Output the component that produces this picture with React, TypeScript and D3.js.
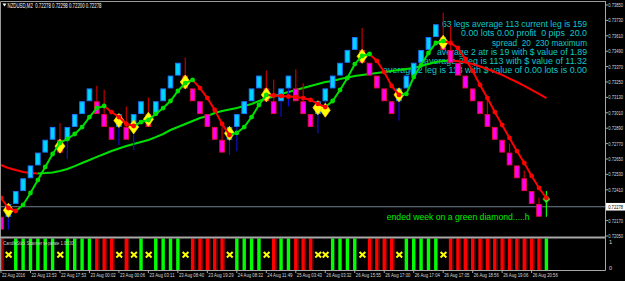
import React from "react";
import * as d3 from "d3";

// ---------- data ----------
const boxDirs = [
  "d","u","u","u","u","u","u","u","d","u",
  "u","u","u","d","d","d","u","d","u","u",
  "d","u","u","u","u","d","d","d","d","d",
  "d","u","u","u","u","u","d","d","u","u",
  "d","d","d","u","u","u","u","u","u","d",
  "d","d","d","d","u","u","u","u","u","u",
  "d","d","d","d","d","d","d","d","d","d",
  "d","d","d","d","n",
];
const boxLows = [
  0.7210,0.7220,0.7230,0.7240,0.7250,0.7260,0.7270,0.7280,0.7270,0.7280,
  0.7290,0.7300,0.7310,0.7300,0.7290,0.7280,0.7290,0.7280,0.7290,0.7300,
  0.7290,0.7300,0.7310,0.7320,0.7330,0.7320,0.7310,0.7300,0.7290,0.7280,
  0.7270,0.7280,0.7290,0.7300,0.7310,0.7320,0.7310,0.7300,0.7310,0.7320,
  0.7310,0.7300,0.7290,0.7300,0.7310,0.7320,0.7330,0.7340,0.7350,0.7340,
  0.7330,0.7320,0.7310,0.7300,0.7310,0.7320,0.7330,0.7340,0.7350,0.7360,
  0.7350,0.7340,0.7330,0.7320,0.7310,0.7300,0.7290,0.7280,0.7270,0.7260,
  0.7250,0.7240,0.7230,0.7220,0.7220,
];
const brickSize = 0.001;
const wickSlots = [1,8,9,13,14,16,17,18,20,25,30,31,32,36,37,38,39,40,41,43,44,49,54,60,61,66,69,71,73];
const wickPrices = [0.7210,0.7293,0.7265,0.7322,0.7319,0.7276,0.7306,0.7272,0.7313,0.7344,0.7293,0.7268,0.7271,0.7334,0.7327,0.7298,0.7306,0.7335,0.7324,0.7285,0.7303,0.7367,0.7295,0.7379,0.7369,0.7311,0.7277,0.7256,0.7235];
const fastMA = [
  0.72346,0.72268,0.72245,0.72292,0.72385,0.72486,0.72588,0.72689,0.72775,0.72806,
  0.72845,0.72899,0.72977,0.73047,0.73063,0.73016,0.72977,0.72923,0.72907,0.72938,
  0.72954,0.73001,0.73047,0.73102,0.73180,0.73242,0.73266,0.73203,0.73125,0.73032,
  0.72923,0.72837,0.72853,0.72899,0.72977,0.73071,0.73149,0.73145,0.73141,0.73137,
  0.73133,0.73125,0.73110,0.73079,0.73055,0.73102,0.73188,0.73281,0.73390,0.73453,
  0.73468,0.73414,0.73328,0.73219,0.73149,0.73157,0.73289,0.73382,0.73476,0.73554,
  0.73569,0.73554,0.73515,0.73429,0.73336,0.73227,0.73125,0.73016,0.72915,0.72814,
  0.72712,0.72619,0.72518,0.72424,0.72346,
];
const slowMA = [
  0.72603,0.72580,0.72564,0.72549,0.72541,0.72537,0.72540,0.72545,0.72556,0.72572,
  0.72595,0.72619,0.72642,0.72666,0.72689,0.72712,0.72732,0.72751,0.72767,0.72782,
  0.72798,0.72821,0.72845,0.72876,0.72899,0.72923,0.72946,0.72969,0.72985,0.73008,
  0.73024,0.73036,0.73047,0.73063,0.73079,0.73102,0.73121,0.73137,0.73157,0.73172,
  0.73188,0.73203,0.73219,0.73234,0.73250,0.73258,0.73273,0.73285,0.73297,0.73305,
  0.73312,0.73320,0.73328,0.73336,0.73344,0.73351,0.73359,0.73375,0.73390,0.73406,
  0.73414,0.73418,0.73414,0.73402,0.73390,0.73371,0.73351,0.73328,0.73305,0.73277,
  0.73250,0.73219,0.73188,0.73157,0.73125,
];
const diamondSlots = [1,8,16,18,20,25,31,36,43,44,49,54,60];
const diamondPrices = [0.7225,0.7275,0.7295,0.7290,0.7296,0.7325,0.7285,0.7315,0.7305,0.7303,0.7345,0.7315,0.7356];
const scannerCodes = [
  "r","x","g","g","g","g","g","g","x","g",
  "g","g","g","r","r","r","x","r","x","g",
  "x","g","g","g","g","x","r","r","r","r",
  "r","x","g","g","g","g","x","r","g","g",
  "r","r","r","x","x","g","g","g","g","x",
  "r","r","r","r","x","g","g","g","g","g",
  "x","r","r","r","r","r","r","r","r","r",
  "r","r","r","r","g",
];
const priceTicks = [0.7385,0.7373,0.7361,0.7349,0.7337,0.7325,0.7313,0.7301,0.7289,0.7277,0.7265,0.7253,0.7241,0.7229,0.7217,0.7205];
const dateLabels = [
  "22 Aug 2016","22 Aug 13:53","22 Aug 17:53","23 Aug 00:02","23 Aug 00:06","23 Aug 03:11","23 Aug 08:40",
  "23 Aug 19:29","24 Aug 08:32","24 Aug 11:49","25 Aug 03:43","26 Aug 03:32","26 Aug 15:55","26 Aug 17:00",
  "26 Aug 17:04","26 Aug 17:05","26 Aug 18:56","26 Aug 19:06","26 Aug 20:56",
];
const infoLines = [
  "63 legs average 113 current leg is 159",
  "0.00 lots 0.00 profit  0 pips  20.0",
  "spread  20  230 maximum",
  "average 2 atr is 19 with $ value of 1.89",
  "average 2 leg is 113 with $ value of 11.32",
  "average 2 leg is 113 with $ value of 0.00 lots is 0.00",
];
const infoWidths = [145, 126, 95, 150, 163, 204];
const lastCandle = [0.7220, 0.7240, 0.72338];
const currentPrice = 0.72278;
const titleText = "NZDUSD,M2  0.72278 0.72298 0.72200 0.72278";
const indicatorName = "CandleStick Scanner separate 1.0000";
const footerText = "ended week on a green diamond.....h";

// ---------- component ----------
const FONT = "'Liberation Sans', Arial, sans-serif";
const GREEN = "#00e000";
const RED = "#ff0000";

function runs(vals: number[]) {
  const out: { color: string; pts: [number, number][] }[] = [];
  for (let i = 0; i < vals.length - 1; i++) {
    const c = vals[i + 1] >= vals[i] ? GREEN : RED;
    const last = out[out.length - 1];
    if (last && last.color === c) last.pts.push([i + 1, vals[i + 1]]);
    else out.push({ color: c, pts: [[i, vals[i]], [i + 1, vals[i + 1]]] });
  }
  return out;
}

export default function App() {
  const x = d3.scaleLinear().domain([0, 74]).range([1, 1 + 74 * 7.37]);
  const y = d3.scaleLinear().domain([0.7205, 0.7385]).range([236, 5]);
  const yi = d3.scaleLinear().domain([0, 1]).range([270, 238.5]);
  const line = d3.line<[number, number]>().x((d) => x(d[0])).y((d) => y(d[1]));

  const fastRuns = runs(fastMA);
  const slowRuns = runs(slowMA);
  const pre = { whiteSpace: "pre" as const };

  return (
    <svg width={625} height={281} style={{ position: "absolute", left: 0, top: 0, display: "block" }}>
      <rect x={0} y={0} width={625} height={281} fill="#000" />

      {/* info text */}
      {infoLines.map((t, k) => (
        <text key={"info" + k} x={587} y={27.3 + k * 9.15} fontFamily={FONT} fontSize={9.2} style={pre}
          fill="#10c6cc" textAnchor="end" textLength={infoWidths[k]} lengthAdjust="spacingAndGlyphs">{t}</text>
      ))}

      {/* current price line */}
      <line x1={1} x2={605.5} y1={y(currentPrice)} y2={y(currentPrice)} stroke="#6f7f8f" strokeWidth={1} />

      {/* slow MA */}
      {slowRuns.map((r, k) => (
        <path key={"s" + k} d={line(r.pts) || ""} fill="none" stroke={r.color} strokeWidth={2} />
      ))}

      {/* wicks */}
      {wickSlots.map((s, k) => {
        const up = boxDirs[s] === "u";
        const edge = up ? boxLows[s] : boxLows[s] + brickSize;
        return (
          <line key={"w" + k} x1={x(s)} x2={x(s)} y1={y(edge)} y2={y(wickPrices[k])}
            stroke={up ? "#1010c8" : "#c00000"} strokeWidth={1.2} />
        );
      })}

      {/* boxes */}
      {boxDirs.map((d, i) => {
        if (d === "n") return null;
        const top = y(boxLows[i] + brickSize);
        const bot = y(boxLows[i]);
        const up = d === "u";
        return (
          <rect key={"b" + i} x={x(i) - 2.3} y={top + 0.5} width={4.6} height={bot - top - 1}
            fill={up ? "#00d4ff" : "#ff00ff"} stroke={up ? "#1e78ff" : "#e0103a"} strokeWidth={1} />
        );
      })}

      {/* last candle */}
      <line x1={x(74)} x2={x(74)} y1={y(lastCandle[0])} y2={y(lastCandle[1])} stroke="#00ff00" strokeWidth={1.2} />
      <path d={`M${x(74)},${y(lastCandle[2]) - 4} L${x(74) + 3.5},${y(lastCandle[2])} L${x(74)},${y(lastCandle[2]) + 4} L${x(74) - 3.5},${y(lastCandle[2])} Z`}
        fill="#40ff40" stroke="#00c000" strokeWidth={1} />

      {/* diamonds */}
      {diamondSlots.map((s, k) => {
        const cx = x(s), cy = y(diamondPrices[k]);
        return (
          <path key={"dm" + k} d={`M${cx},${cy - 7} L${cx + 5},${cy} L${cx},${cy + 7} L${cx - 5},${cy} Z`}
            fill="#ffff00" stroke="#ffd000" strokeWidth={0.8} />
        );
      })}

      {/* fast MA */}
      {fastRuns.map((r, k) => (
        <path key={"f" + k} d={line(r.pts) || ""} fill="none" stroke={r.color} strokeWidth={2} />
      ))}
      {fastMA.map((v, i) => {
        const c = i === 0 ? (fastMA[1] >= fastMA[0] ? GREEN : RED) : (fastMA[i] >= fastMA[i - 1] ? GREEN : RED);
        return <circle key={"fd" + i} cx={x(i)} cy={y(v)} r={2.4} fill={c} />;
      })}

      {/* footer text */}
      <text x={386.7} y={220} fontFamily={FONT} fontSize={9.5} fill="#00ee00"
        textLength={143} lengthAdjust="spacingAndGlyphs">{footerText}</text>

      {/* title */}
      <path d="M2.5,3.5 L6.5,3.5 L4.5,6.5 Z" fill="#fff" />
      <text x={7.5} y={7.6} fontFamily={FONT} fontSize={6.4} fill="#fff" style={pre} textLength={94} lengthAdjust="spacingAndGlyphs">{titleText}</text>

      {/* indicator panel */}
      {scannerCodes.map((c, i) => {
        const cx = x(i);
        if (c === "x") {
          return (
            <path key={"sc" + i} d={`M${cx - 2.6},${252} L${cx + 3.2},${257.5} M${cx + 3.2},${252} L${cx - 2.6},${257.5}`}
              stroke="#ffff00" strokeWidth={2} fill="none" />
          );
        }
        const fill = c === "g" ? "#00ff00" : "#ff0000";
        return (
          <g key={"sc" + i}>
            <rect x={cx - 1.7} y={yi(1)} width={3.4} height={yi(0) - yi(1)} fill={fill} />
            {c === "r" ? <rect x={cx + 1.7} y={yi(1)} width={1.4} height={yi(0) - yi(1)} fill="#7a0000" /> : null}
          </g>
        );
      })}
      <text x={3.3} y={245} fontFamily={FONT} fontSize={6} fill="#d0d0d0" textLength={70} lengthAdjust="spacingAndGlyphs">{indicatorName}</text>

      {/* frames */}
      <line x1={0.5} x2={605.5} y1={1.5} y2={1.5} stroke="#9a9a9a" strokeWidth={1} />
      <line x1={0.5} x2={0.5} y1={1.5} y2={270.5} stroke="#9a9a9a" strokeWidth={1} />
      <line x1={0} x2={605.5} y1={237.5} y2={237.5} stroke="#a8a8a8" strokeWidth={2} />
      <line x1={0} x2={605.5} y1={270.5} y2={270.5} stroke="#a8a8a8" strokeWidth={1} />
      <line x1={605.5} x2={605.5} y1={1} y2={270.5} stroke="#a8a8a8" strokeWidth={1} />

      {/* right price axis */}
      {priceTicks.map((p, k) => (
        <g key={"pt" + k}>
          <line x1={605.5} x2={608} y1={y(p)} y2={y(p)} stroke="#a8a8a8" />
          <text x={608.3} y={y(p) + 2} fontFamily={FONT} fontSize={5.2} fill="#d8d8d8"
            textLength={14.8} lengthAdjust="spacingAndGlyphs">{p.toFixed(5)}</text>
        </g>
      ))}
      <rect x={606} y={y(currentPrice) - 3.8} width={19} height={7.6} fill="#ffffff" />
      <text x={608.2} y={y(currentPrice) + 2} fontFamily={FONT} fontSize={5.2} fill="#000"
        textLength={14.8} lengthAdjust="spacingAndGlyphs">{currentPrice.toFixed(5)}</text>
      <text x={609} y={243.5} fontFamily={FONT} fontSize={5.6} fill="#d8d8d8">1</text>
      <text x={609} y={270} fontFamily={FONT} fontSize={5.6} fill="#d8d8d8">0</text>

      {/* bottom date axis */}
      {dateLabels.map((t, k) => {
        const lx = x(k * 4);
        return (
          <g key={"dl" + k}>
            <line x1={lx} x2={lx} y1={270.5} y2={273} stroke="#a8a8a8" />
            <text x={lx + 1} y={277} fontFamily={FONT} fontSize={5.4} fill="#d8d8d8"
              textLength={t.length * 2.1} lengthAdjust="spacingAndGlyphs">{t}</text>
          </g>
        );
      })}
    </svg>
  );
}
